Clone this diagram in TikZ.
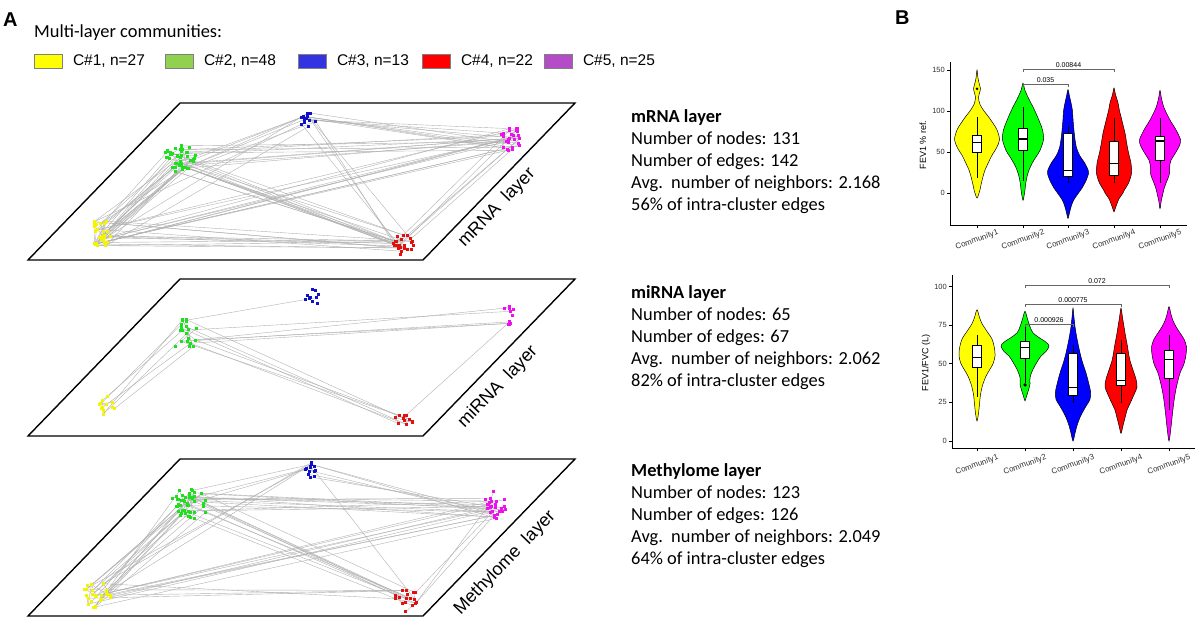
\documentclass[tikz,border=0pt]{standalone}
\usepackage{fontspec}
\setmainfont{Carlito}
\newfontfamily\arial{Liberation Sans}
\usetikzlibrary{positioning,calc}
\definecolor{legyellow}{HTML}{FFFF00}
\definecolor{leggreen}{HTML}{92D050}
\definecolor{legblue}{HTML}{3333E0}
\definecolor{legred}{HTML}{FF0000}
\definecolor{legpurple}{HTML}{B44CC8}
\definecolor{dotyellow}{HTML}{F4F400}
\definecolor{dotgreen}{HTML}{1EE01E}
\definecolor{dotblue}{HTML}{1010C8}
\definecolor{dotmagenta}{HTML}{EE10EE}
\definecolor{dotred}{HTML}{E41010}
\definecolor{vyellow}{HTML}{FFFF00}
\definecolor{vgreen}{HTML}{00FF00}
\definecolor{vblue}{HTML}{0000FF}
\definecolor{vred}{HTML}{FF0000}
\definecolor{vmagenta}{HTML}{FF00FF}

% points of one community, scattered round its centre
\newcommand{\mkcluster}[5]{% name, centre, rx, ry, count
  \foreach \i in {1,...,#5}{%
    \pgfmathsetmacro\ang{360*rnd}%
    \pgfmathsetmacro\rr{sqrt(rnd)}%
    \coordinate (#1-\i) at ($(#2)+({#3*\rr*cos(\ang)},{#4*\rr*sin(\ang)})$);
  }}
% random edges between two communities
\newcommand{\links}[5]{% from, n1, to, n2, count
  \foreach \e in {1,...,#5}{%
    \pgfmathtruncatemacro\pa{min(#2,1+floor(#2*rnd))}%
    \pgfmathtruncatemacro\qa{min(#4,1+floor(#4*rnd))}%
    \draw[edge] (#1-\pa) -- (#3-\qa);
  }}
\newcommand{\putdots}[3]{% name, count, colour
  \foreach \i in {1,...,#2}{\fill[#3] (#1-\i) +(-1.5,-1.5) rectangle +(1.5,1.5);}}
% violin outline from value/halfwidth pairs, top to bottom
\newcommand{\violinshape}[2]{%
  \gdef\vR{}\gdef\vL{}%
  \foreach \v/\h in {#2}{%
    \xdef\vR{\vR(\h,\v)}%
    \ifdim\h pt>0pt \xdef\vL{(-\h,\v)\vL}\fi}%
  \edef\vpath{\noexpand\draw[violin,fill=#1] plot[smooth cycle] coordinates {\vR\vL};}%
  \vpath}
\newcommand{\boxplt}[5]{% q1, median, q3, low, high
  \draw[whisk] (0,#4) -- (0,#1) (0,#3) -- (0,#5);
  \draw[boxp] (-4.5,#1) rectangle (4.5,#3);
  \draw[med] (-4.5,#2) -- (4.5,#2);}
\newcommand{\layerinfo}[7]{% name, baseline, title, nodes, edges, avg, share
  \node[infotitle] (#1-title) at (631,#2) {#3};
  \foreach \t [count=\i] in {{Number of nodes: #4},{Number of edges: #5},{Avg.\ \ number of neighbors: #6},{#7\% of intra-cluster edges}}
    \node[infoline] (#1-line\i) at (631,{#2+22*\i}) {\t};}

\begin{document}
\begin{tikzpicture}[x=1pt, y=-1pt,
  plane/.style={draw=black, line width=1.4pt},
  edge/.style={draw=gray!60, line width=0.4pt},
  laylab/.style={font=\arial\fontsize{18}{18}\selectfont, rotate=46, inner sep=0pt},
  infotitle/.style={anchor=base west, inner sep=0pt, font=\fontsize{18.4}{22}\selectfont\bfseries},
  infoline/.style={anchor=base west, inner sep=0pt, font=\fontsize{18.4}{22}\selectfont},
  legbox/.style={draw=gray, line width=0.8pt, minimum width=28pt, minimum height=14pt, inner sep=0pt, anchor=north west},
  legtext/.style={font=\arial\fontsize{15.5}{16}\selectfont, inner sep=0pt},
  panlab/.style={anchor=base west, inner sep=0pt, font=\arial\bfseries\fontsize{#1}{#1}\selectfont},
  violin/.style={draw=black, line width=0.5pt},
  whisk/.style={draw=black, line width=0.6pt},
  boxp/.style={draw=black, fill=white, line width=0.6pt},
  med/.style={draw=black, line width=1.3pt},
  axisline/.style={draw=black, line width=0.6pt},
  ticklab/.style={font=\arial\fontsize{7.5}{8}\selectfont, text=black!80, inner sep=1pt, anchor=east},
  catlab/.style={font=\arial\fontsize{8}{8}\selectfont, text=black!80, rotate=20, inner sep=0pt},
  ytitle/.style={font=\arial\fontsize{9}{9}\selectfont, rotate=90},
  bracket/.style={draw=black!60, line width=0.5pt},
  plab/.style={font=\arial\fontsize{7}{8}\selectfont, inner sep=0pt, anchor=base},
  ]
  \path[use as bounding box, fill=white] (0,0) rectangle (1200,628);

  % panel A header and legend
  \node[panlab=20] (lab-a) at (3,27) {A};
  \node[anchor=base west, inner sep=0pt, font=\fontsize{18.4}{22}\selectfont] (leg-title) at (34,38) {Multi-layer communities:};
  \foreach \col/\txt/\bx [count=\i] in {legyellow/{C\#1, n=27}/34, leggreen/{C\#2, n=48}/165,
    legblue/{C\#3, n=13}/298, legred/{C\#4, n=22}/422, legpurple/{C\#5, n=25}/544}
  {
    \node[legbox, fill=\col] (leg\i) at (\bx,54) {};
    \node[legtext, right=10pt of leg\i] (legtxt\i) {\txt};
  }

  % the three layers
  \foreach \lay/\yb in {mrna/260, mirna/436, methyl/616}
    \draw[plane] (28,\yb) coordinate (\lay-bl) -- ++(395,0) coordinate (\lay-br)
      -- ++(152,-157) coordinate (\lay-tr) -- ++(-395,0) coordinate (\lay-tl) -- cycle;

  % mRNA layer
  \pgfmathsetseed{11}
  \mkcluster{mrY}{101,234}{13}{15}{27}
  \mkcluster{mrG}{179,158}{17}{14}{48}
  \mkcluster{mrB}{308,120}{9}{8}{13}
  \mkcluster{mrM}{512,140}{12}{13}{25}
  \mkcluster{mrR}{404,245}{12}{11}{22}
  \foreach \a/\na/\b/\nb/\c in {mrG/48/mrY/27/20, mrY/27/mrR/22/12, mrY/27/mrM/25/10,
    mrG/48/mrR/22/12, mrG/48/mrM/25/10, mrB/13/mrG/48/5, mrB/13/mrM/25/8, mrB/13/mrR/22/4,
    mrM/25/mrR/22/5, mrY/27/mrB/13/3, mrY/27/mrY/27/8, mrG/48/mrG/48/10, mrM/25/mrM/25/6,
    mrR/22/mrR/22/6, mrB/13/mrB/13/3}
    \links{\a}{\na}{\b}{\nb}{\c};
  \putdots{mrY}{27}{dotyellow}
  \putdots{mrG}{48}{dotgreen}
  \putdots{mrB}{13}{dotblue}
  \putdots{mrM}{25}{dotmagenta}
  \putdots{mrR}{22}{dotred}
  \node[laylab] (mrna-lab) at (497,208) {mRNA\ \ layer};

  % miRNA layer
  \mkcluster{miY}{107,406}{9}{11}{12}
  \mkcluster{miG}{185,335}{14}{16}{20}
  \mkcluster{miB}{313,297}{8}{8}{10}
  \mkcluster{miM}{508,316}{9}{12}{10}
  \mkcluster{miR}{405,421}{11}{8}{12}
  \foreach \a/\na/\b/\nb/\c in {miY/12/miG/20/6, miG/20/miR/12/6, miG/20/miM/10/5,
    miG/20/miB/10/1, miM/10/miR/12/1, miY/12/miY/12/5, miG/20/miG/20/8, miM/10/miM/10/4,
    miR/12/miR/12/5}
    \links{\a}{\na}{\b}{\nb}{\c};
  \putdots{miY}{12}{dotyellow}
  \putdots{miG}{20}{dotgreen}
  \putdots{miB}{10}{dotblue}
  \putdots{miM}{10}{dotmagenta}
  \putdots{miR}{12}{dotred}
  \node[laylab] (mirna-lab) at (498,387) {miRNA\ \ layer};

  % methylome layer
  \mkcluster{meY}{97,594}{14}{15}{25}
  \mkcluster{meG}{189,505}{20}{16}{45}
  \mkcluster{meB}{313,470}{9}{8}{13}
  \mkcluster{meM}{495,505}{12}{14}{25}
  \mkcluster{meR}{406,600}{12}{12}{18}
  \foreach \a/\na/\b/\nb/\c in {meY/25/meG/45/15, meG/45/meM/25/12, meY/25/meM/25/8,
    meG/45/meR/18/9, meY/25/meR/18/4, meY/25/meB/13/3, meG/45/meB/13/3, meB/13/meM/25/5,
    meB/13/meR/18/1, meM/25/meR/18/3, meY/25/meY/25/8, meG/45/meG/45/10, meM/25/meM/25/6,
    meR/18/meR/18/4, meB/13/meB/13/2}
    \links{\a}{\na}{\b}{\nb}{\c};
  \putdots{meY}{25}{dotyellow}
  \putdots{meG}{45}{dotgreen}
  \putdots{meB}{13}{dotblue}
  \putdots{meM}{25}{dotmagenta}
  \putdots{meR}{18}{dotred}
  \node[laylab] (methyl-lab) at (505,563) {Methylome\ \ layer};

  % layer figures
  \layerinfo{mrna}{123}{mRNA layer}{131}{142}{2.168}{56}
  \layerinfo{mirna}{299}{miRNA layer}{65}{67}{2.062}{82}
  \layerinfo{methyl}{476}{Methylome layer}{123}{126}{2.049}{64}

  % panel B
  \node[panlab=20] (lab-b) at (895,25) {B};

  % FEV1 % ref.
  \draw[axisline] (950,62) -- (950,225) -- (1187,225);
  \foreach \v in {0,50,100,150}
  {
    \draw[axisline] (947,{193-0.82*\v}) -- (950,{193-0.82*\v});
    \node[ticklab] (fev-tick\v) at (946,{193-0.82*\v}) {\v};
  }
  \foreach \x [count=\c] in {977,1023,1068,1114,1160}
  {
    \draw[axisline] (\x,225) -- (\x,228);
    \node[catlab] (fev-cat\c) at (\x,240) {Community\c};
  }
  \node[ytitle] (fev-title) at (923,145) {FEV1 \% ref.};
  \begin{scope}[shift={(977,193)}, y=0.82pt]
    \violinshape{vyellow}{150/0,140/1,132/2.5,127/3.5,122/2.5,116/1.5,108/3,100/7,93/11.5,85/16,77/20,65/22.5,55/19.5,45/14.5,36/11,28/8,20/6,10/4,4/3,-6/0}
    \boxplt{49.6}{61.8}{70.7}{18}{93}
    \fill (0,127) circle (1.4pt);
  \end{scope}
  \begin{scope}[shift={(1023,193)}, y=0.82pt]
    \violinshape{vgreen}{134/0,125/2,113/6.5,105/10,97/13,87/16.5,77/19.5,65/20.5,52/17,44/13,36/9,28/6,20/4,10/2.5,4/2,-9/0}
    \boxplt{51.6}{65.8}{78.9}{15}{105}
  \end{scope}
  \begin{scope}[shift={(1068,193)}, y=0.82pt]
    \violinshape{vblue}{126/0,118/1.5,110/3,100/4.5,90/5,70/6.5,55/8.5,45/12,38/16,30/19.5,24/20.5,15/18,6/14,0/10.5,-8/6,-15/3.5,-24/1.5,-31/0}
    \boxplt{19.9}{27.2}{72.8}{12.6}{81.7}
  \end{scope}
  \begin{scope}[shift={(1114,193)}, y=0.82pt]
    \violinshape{vred}{128/0,120/1.5,110/4,100/5.5,93/7,83/9,73/11,62/12.5,52/14,44/15.5,36/17,24/17.5,12/14.5,4/10.5,0/9,-7/5,-13/3,-18/1.5,-23/0}
    \boxplt{22}{36.2}{63.4}{12.6}{91}
  \end{scope}
  \begin{scope}[shift={(1160,193)}, y=0.82pt]
    \violinshape{vmagenta}{125/0,115/1.5,104/4,95/7.5,89/10,83/13,77/16,65/20.5,58/19.5,52/17,45/13.5,40/11,32/9.5,24/9.5,18/8,12/6,5/4,0/3,-10/1.2,-19/0}
    \boxplt{40.2}{63.4}{69.5}{12.6}{91}
  \end{scope}
  \draw[bracket] (1023,87.3) -- (1023,84.3) -- (1068,84.3) -- (1068,87.3);
  \node[plab] (fev-p1) at (1045.5,82.6) {0.035};
  \draw[bracket] (1023,72.3) -- (1023,69.3) -- (1114,69.3) -- (1114,72.3);
  \node[plab] (fev-p2) at (1068.5,67.6) {0.00844};

  % FEV1/FVC
  \draw[axisline] (952,275) -- (952,448) -- (1195,448);
  \foreach \v in {0,25,50,75,100}
  {
    \draw[axisline] (949,{441-1.544*\v}) -- (952,{441-1.544*\v});
    \node[ticklab] (fvc-tick\v) at (948,{441-1.544*\v}) {\v};
  }
  \foreach \x [count=\c] in {977,1025,1073,1121,1169}
  {
    \draw[axisline] (\x,448) -- (\x,451);
    \node[catlab] (fvc-cat\c) at (\x,465) {Community\c};
  }
  \node[ytitle] (fvc-title) at (926,363) {FEV1/FVC (L)};
  \begin{scope}[shift={(977,441)}, y=1.544pt]
    \violinshape{vyellow}{85/0,80/2.5,76/5,71/10,66/15,60/17.5,55/18,50/16,46/12.5,42/9,36/5.5,30/3.5,24/2.5,18/1.5,13/0}
    \boxplt{47.7}{54.2}{62.2}{28.7}{68.7}
  \end{scope}
  \begin{scope}[shift={(1025,441)}, y=1.544pt]
    \violinshape{vgreen}{84/0,79/2.5,74/5,70/8,67/14,64/21,61.5/24,58/21,55/16,50/11,45/7,41/5,37/5,33/3.5,29/1.5,26/0}
    \boxplt{53.5}{60.7}{64.3}{37.4}{75}
    \fill (0,36.3) circle (1.8pt);
  \end{scope}
  \begin{scope}[shift={(1073,441)}, y=1.544pt]
    \violinshape{vblue}{86/0,80/1,74/2,68/3.5,63/5,57/7,52/9,44/13,38/15.5,32/17.5,27/17,22/12.5,16/7.5,10/4,5/2,0/0}
    \boxplt{29.8}{34.5}{56.8}{24.4}{62.2}
  \end{scope}
  \begin{scope}[shift={(1121,441)}, y=1.544pt]
    \violinshape{vred}{86/0,80/1.5,74/3,68/4.5,63/6,57/7.5,52/9,46/12,40/15,35/16,30/13,25/9.5,20/6,15/4,10/2,5/0}
    \boxplt{36.3}{39}{56.8}{24.4}{65.4}
  \end{scope}
  \begin{scope}[shift={(1169,441)}, y=1.544pt]
    \violinshape{vmagenta}{87/0,82/2,78/4,74/7,70/11,66/15,61/17.5,56/17,50/15,44/11,38/8.5,32/6.5,26/5,18/3.5,9/2,0/0}
    \boxplt{40.6}{52.9}{58.9}{20}{68.7}
  \end{scope}
  \draw[bracket] (1025,326.7) -- (1025,324.3) -- (1073,324.3) -- (1073,326.7);
  \node[plab] (fvc-p1) at (1049,322.6) {0.000926};
  \draw[bracket] (1025,307) -- (1025,304.3) -- (1121,304.3) -- (1121,307);
  \node[plab] (fvc-p2) at (1073,302.6) {0.000775};
  \draw[bracket] (1025,287.7) -- (1025,285) -- (1169,285) -- (1169,287.7);
  \node[plab] (fvc-p3) at (1097,283.3) {0.072};
\end{tikzpicture}
\end{document}
